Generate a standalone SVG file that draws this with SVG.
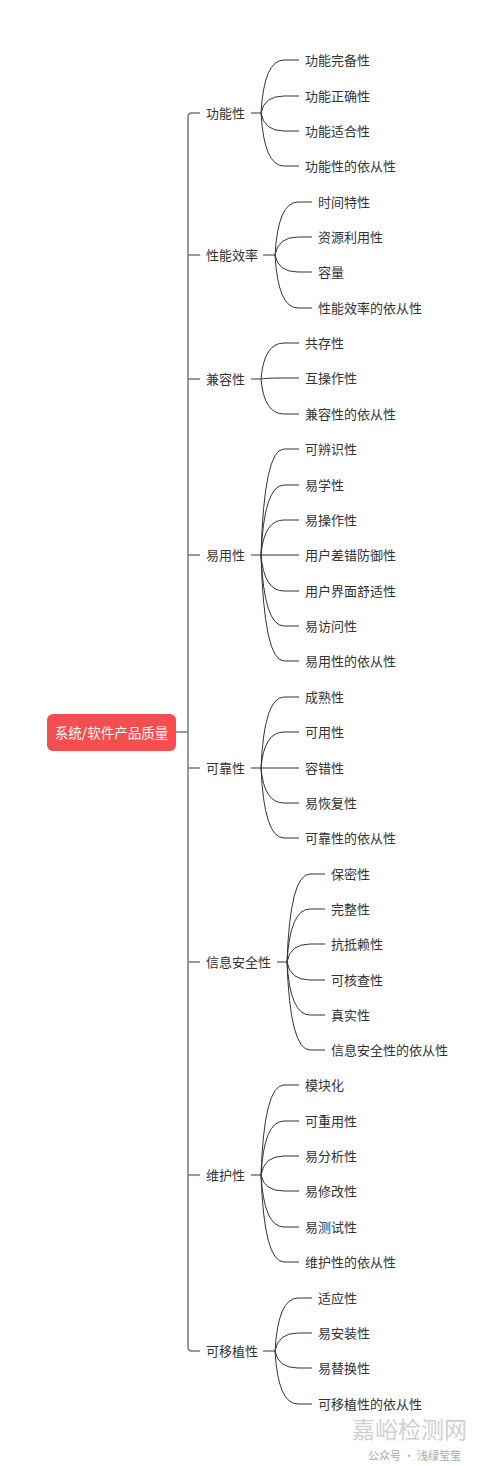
<svg xmlns="http://www.w3.org/2000/svg" width="500" height="1465" viewBox="0 0 500 1465">
<style>
text{font-family:"Noto Sans CJK SC","Liberation Sans",sans-serif;font-size:13px;fill:#333;dominant-baseline:central}
.root{fill:#fff;font-size:13.5px}
.c{fill:none;stroke:#333;stroke-width:1}
.t{fill:none;stroke:#777;stroke-width:1.5}
.wm{fill:#cfcfcf}
</style>
<rect width="500" height="1465" fill="#fff"/>
<g id="connectors">
<path class="c" d="M176 732 H188"/>
<path class="t" d="M200 113 H192 Q188 113 188 117 V1347 Q188 1351 192 1351 H200"/>
<path class="t" d="M188 255 H200 M188 379 H200 M188 555 H200 M188 768 H200 M188 962 H200 M188 1175 H200"/>
<path class="c" d="M251 113 H261 M261 113 Q264 60 284 60 H299 M261 113 Q264 96 284 96 H299 M261 113 Q264 131 284 131 H299 M261 113 Q264 166 284 166 H299"/>
<path class="c" d="M263 255 H275 M275 255 Q278 202 298 202 H312 M275 255 Q278 237 298 237 H312 M275 255 Q278 272 298 272 H312 M275 255 Q278 308 298 308 H312"/>
<path class="c" d="M251 379 H261 M261 379 Q264 343 284 343 H299 M261 379 Q264 378 284 378 H299 M261 379 Q264 414 284 414 H299"/>
<path class="c" d="M251 555 H261 M261 555 Q264 449 284 449 H299 M261 555 Q264 485 284 485 H299 M261 555 Q264 520 284 520 H299 M261 555 H299 M261 555 Q264 591 284 591 H299 M261 555 Q264 626 284 626 H299 M261 555 Q264 661 284 661 H299"/>
<path class="c" d="M251 768 H261 M261 768 Q264 697 284 697 H299 M261 768 Q264 732 284 732 H299 M261 768 H299 M261 768 Q264 803 284 803 H299 M261 768 Q264 838 284 838 H299"/>
<path class="c" d="M277 962 H287 M287 962 Q290 874 310 874 H325 M287 962 Q290 909 310 909 H325 M287 962 Q290 944 310 944 H325 M287 962 Q290 980 310 980 H325 M287 962 Q290 1015 310 1015 H325 M287 962 Q290 1050 310 1050 H325"/>
<path class="c" d="M251 1175 H261 M261 1175 Q264 1085 284 1085 H299 M261 1175 Q264 1121 284 1121 H299 M261 1175 Q264 1156 284 1156 H299 M261 1175 Q264 1191 284 1191 H299 M261 1175 Q264 1227 284 1227 H299 M261 1175 Q264 1262 284 1262 H299"/>
<path class="c" d="M263 1351 H275 M275 1351 Q278 1298 298 1298 H312 M275 1351 Q278 1333 298 1333 H312 M275 1351 Q278 1368 298 1368 H312 M275 1351 Q278 1404 298 1404 H312"/>
</g>
<g id="root">
<rect x="47" y="714" width="129" height="37" rx="6" fill="#F54E4E"/>
<text class="root" x="111.5" y="732" text-anchor="middle">系统/软件产品质量</text>
</g>
<g id="b1" transform="translate(0,-1)"><text x="206" y="113">功能性</text>
<text x="305" y="60">功能完备性</text><text x="305" y="96">功能正确性</text><text x="305" y="131">功能适合性</text><text x="305" y="166">功能性的依从性</text></g>
<g id="b2" transform="translate(0,-1)"><text x="206" y="255">性能效率</text>
<text x="318" y="202">时间特性</text><text x="318" y="237">资源利用性</text><text x="318" y="272">容量</text><text x="318" y="308">性能效率的依从性</text></g>
<g id="b3" transform="translate(0,-1)"><text x="206" y="379">兼容性</text>
<text x="305" y="343">共存性</text><text x="305" y="378">互操作性</text><text x="305" y="414">兼容性的依从性</text></g>
<g id="b4" transform="translate(0,-1)"><text x="206" y="555">易用性</text>
<text x="305" y="449">可辨识性</text><text x="305" y="485">易学性</text><text x="305" y="520">易操作性</text><text x="305" y="555">用户差错防御性</text><text x="305" y="591">用户界面舒适性</text><text x="305" y="626">易访问性</text><text x="305" y="661">易用性的依从性</text></g>
<g id="b5" transform="translate(0,-1)"><text x="206" y="768">可靠性</text>
<text x="305" y="697">成熟性</text><text x="305" y="732">可用性</text><text x="305" y="768">容错性</text><text x="305" y="803">易恢复性</text><text x="305" y="838">可靠性的依从性</text></g>
<g id="b6" transform="translate(0,-1)"><text x="206" y="962">信息安全性</text>
<text x="331" y="874">保密性</text><text x="331" y="909">完整性</text><text x="331" y="944">抗抵赖性</text><text x="331" y="980">可核查性</text><text x="331" y="1015">真实性</text><text x="331" y="1050">信息安全性的依从性</text></g>
<g id="b7" transform="translate(0,-1)"><text x="206" y="1175">维护性</text>
<text x="305" y="1085">模块化</text><text x="305" y="1121">可重用性</text><text x="305" y="1156">易分析性</text><text x="305" y="1191">易修改性</text><text x="305" y="1227">易测试性</text><text x="305" y="1262">维护性的依从性</text></g>
<g id="b8" transform="translate(0,-1)"><text x="206" y="1351">可移植性</text>
<text x="318" y="1298">适应性</text><text x="318" y="1333">易安装性</text><text x="318" y="1368">易替换性</text><text x="318" y="1404">可移植性的依从性</text></g>
<g id="watermark">
<text class="wm" x="352" y="1428" style="font-size:23px">嘉峪检测网</text>
<text class="wm" x="368" y="1455" style="font-size:11px;fill:#aaa">公众号 · 浅绿莹莹</text>
</g>
</svg>
